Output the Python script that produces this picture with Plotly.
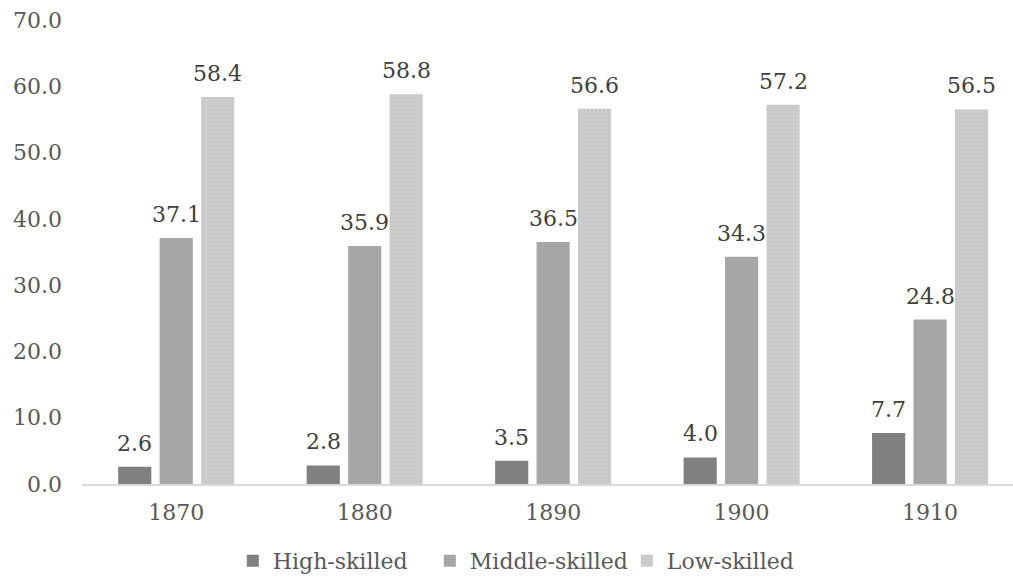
import plotly.graph_objects as go

years = ["1870", "1880", "1890", "1900", "1910"]
high = [2.6, 2.8, 3.5, 4.0, 7.7]
middle = [37.1, 35.9, 36.5, 34.3, 24.8]
low = [58.4, 58.8, 56.6, 57.2, 56.5]
series_names = ["High-skilled", "Middle-skilled", "Low-skilled"]
y_ticks = [0, 10, 20, 30, 40, 50, 60, 70]

FONT = "DejaVu Serif"
bargap = 0.34
xpos = list(range(len(years)))

fig = go.Figure()
styles = [
    dict(color="#808080"),
    dict(color="#a3a3a3", pattern=dict(shape=".", fgcolor="#8f8f8f", bgcolor="#a8a8a8", size=4, solidity=0.15)),
    dict(color="#c9c9c9", pattern=dict(shape=".", fgcolor="#b4b4b4", bgcolor="#cccccc", size=4, solidity=0.15)),
]
data = [high, middle, low]
for name, vals, st in zip(series_names, data, styles):
    fig.add_trace(go.Bar(x=xpos, y=vals, name=name, marker=dict(line=dict(width=0), **st)))

slot = (1 - bargap) / 3
for k, vals in enumerate(data):
    for i, v in enumerate(vals):
        fig.add_annotation(x=i + (k - 1) * slot, y=v, xref="x", yref="y",
                           text=f"{v:.1f}", showarrow=False, yanchor="bottom",
                           yshift=9, font=dict(family=FONT, size=22, color="#404040"))

fig.update_layout(
    width=1013, height=577,
    margin=dict(l=82, r=0, t=20, b=93),
    plot_bgcolor="white", paper_bgcolor="white",
    barmode="group", bargap=bargap, bargroupgap=0.2,
    font=dict(family=FONT, size=22, color="#595959"),
    showlegend=True,
    legend=dict(orientation="h", x=0.162, xanchor="left",
                yref="container", y=0.028, yanchor="middle",
                font=dict(family=FONT, size=22, color="#595959"), itemwidth=30,
                entrywidth=152, entrywidthmode="pixels",
                traceorder="normal"),
    xaxis=dict(tickmode="array", tickvals=xpos, ticktext=years, range=[-0.5, 4.44],
               showline=True, linecolor="#d9d9d9", linewidth=2, ticks="",
               showgrid=False, zeroline=False, ticklabelstandoff=8, automargin=False,
               tickfont=dict(family=FONT, size=22, color="#595959")),
    yaxis=dict(range=[0, 70], tickvals=y_ticks, ticktext=[f"{t:.1f}" for t in y_ticks],
               showgrid=False, zeroline=False, showline=False, ticks="",
               ticklabelstandoff=19, automargin=False,
               tickfont=dict(family=FONT, size=22, color="#595959")),
)

fig.write_html("out.html", config={"displayModeBar": False},
               post_script="document.body.style.margin='0';")
